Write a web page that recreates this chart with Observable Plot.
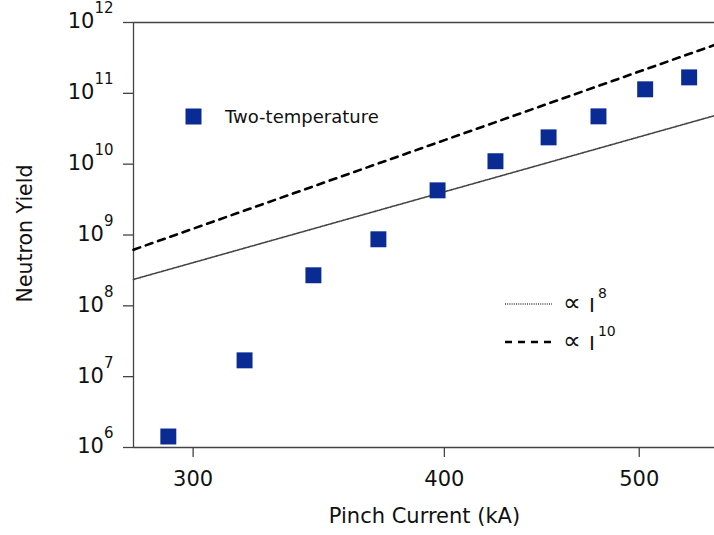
<!DOCTYPE html>
<html><head><meta charset="utf-8">
<script src="https://cdn.jsdelivr.net/npm/d3@7"></script>
<script src="https://cdn.jsdelivr.net/npm/@observablehq/plot@0.6"></script>
<style>body{margin:0;background:#fff} #chart{width:714px;height:535px}</style>
</head><body><div id="chart"></div>
<script>
// Data
const current = [291.6, 318.2, 344.3, 370.9, 396.9, 424.1, 450.7, 477.2, 503.4, 529.4]; // kA
const yieldTwoTemp = [1.43e6, 1.7e7, 2.7e8, 8.7e8, 4.27e9, 1.1e10, 2.39e10, 4.73e10, 1.14e11, 1.68e11];
const guideCurrent = [280.2, 545];
const guideI8 = [2.36e8, 4.84e10];
const guideI10 = [6.2e8, 4.81e11];
const xTicks = [300, 400, 500];
const yTicks = [1e6, 1e7, 1e8, 1e9, 1e10, 1e11, 1e12];

const points = current.map((c, i) => ({I: c, Y: yieldTwoTemp[i]}));
const g8 = guideCurrent.map((c, i) => ({I: c, Y: guideI8[i]}));
const g10 = guideCurrent.map((c, i) => ({I: c, Y: guideI10[i]}));

const axisColor = "#444";
const font = "DejaVu Sans";
const dotStyle = {stroke: "#444", strokeWidth: 1.6, strokeDasharray: "1,1.2"};

const chart = Plot.plot({
  width: 714, height: 535,
  marginLeft: 133, marginRight: 0, marginTop: 22, marginBottom: 88,
  style: {fontFamily: font, background: "#fff", color: "#111", overflow: "visible"},
  x: {type: "log", domain: [guideCurrent[0], guideCurrent[1]]},
  y: {type: "log", domain: [yTicks[0], yTicks[yTicks.length - 1]]},
  marks: [
    Plot.axisX({ticks: xTicks, tickSize: 10, tickPadding: 14, fontSize: 21, label: null,
      tickFormat: d => String(d), stroke: axisColor, strokeWidth: 1.3}),
    Plot.axisY({ticks: yTicks, tickSize: 10, tickPadding: 10, fontSize: 21, label: null,
      tickFormat: d => String(Math.round(Math.log10(d))), stroke: axisColor, strokeWidth: 1.3}),
    Plot.ruleY([yTicks[0], yTicks[yTicks.length - 1]], {stroke: axisColor, strokeWidth: 1.3}),
    Plot.ruleX([guideCurrent[0]], {stroke: axisColor, strokeWidth: 1.3}),
    Plot.line(g8, {x: "I", y: "Y", ...dotStyle}),
    Plot.line(g10, {x: "I", y: "Y", stroke: "#000", strokeWidth: 2.6, strokeDasharray: "7,6"}),
    Plot.dot(points, {x: "I", y: "Y", symbol: "square", r: 9, fill: "#0a2b94"})
  ]
});

document.getElementById("chart").append(chart);
const svg = d3.select(chart);

// superscript exponents on y tick labels
svg.selectAll('g[aria-label="y-axis tick label"] text').each(function () {
  const t = d3.select(this);
  const e = this.textContent;
  t.text("").attr("dy", null).attr("y", null);
  t.append("tspan").attr("dy", "0.28em").text("10");
  t.append("tspan").attr("dy", -15).attr("font-size", 15).text(e);
});

// axis labels
svg.append("text").attr("transform", "translate(32,233.5) rotate(-90)")
  .attr("text-anchor", "middle").attr("font-family", font).attr("font-size", 20.5)
  .attr("fill", "#111").text("Neutron Yield");
svg.append("text").attr("x", 424.5).attr("y", 523)
  .attr("text-anchor", "middle").attr("font-family", font).attr("font-size", 21)
  .attr("fill", "#111").text("Pinch Current (kA)");

// legend: data series
const lg = svg.append("g").attr("font-family", font).attr("fill", "#111").attr("text-anchor", "start");
lg.append("rect").attr("x", 185.5).attr("y", 108.5).attr("width", 16).attr("height", 16).attr("fill", "#0a2b94");
lg.append("text").attr("x", 225).attr("y", 123).attr("font-size", 18).text("Two-temperature");

// legend: guide lines
lg.append("line").attr("x1", 505).attr("x2", 552).attr("y1", 304).attr("y2", 304)
  .attr("stroke", dotStyle.stroke).attr("stroke-width", dotStyle.strokeWidth).attr("stroke-dasharray", dotStyle.strokeDasharray);
lg.append("line").attr("x1", 505).attr("x2", 552).attr("y1", 342).attr("y2", 342)
  .attr("stroke", "#000").attr("stroke-width", 2.6).attr("stroke-dasharray", "7,6");
[[311, 312, "8"], [349, 350, "10"]].forEach(([yp, yi, ex]) => {
  lg.append("text").attr("x", 563).attr("y", yp).attr("font-size", 25).text("∝");
  const t = lg.append("text").attr("x", 589).attr("y", yi).attr("font-size", 20);
  t.append("tspan").text("I");
  t.append("tspan").attr("dx", 3).attr("dy", -14).attr("font-size", 14).text(ex);
});
</script>
</body></html>
